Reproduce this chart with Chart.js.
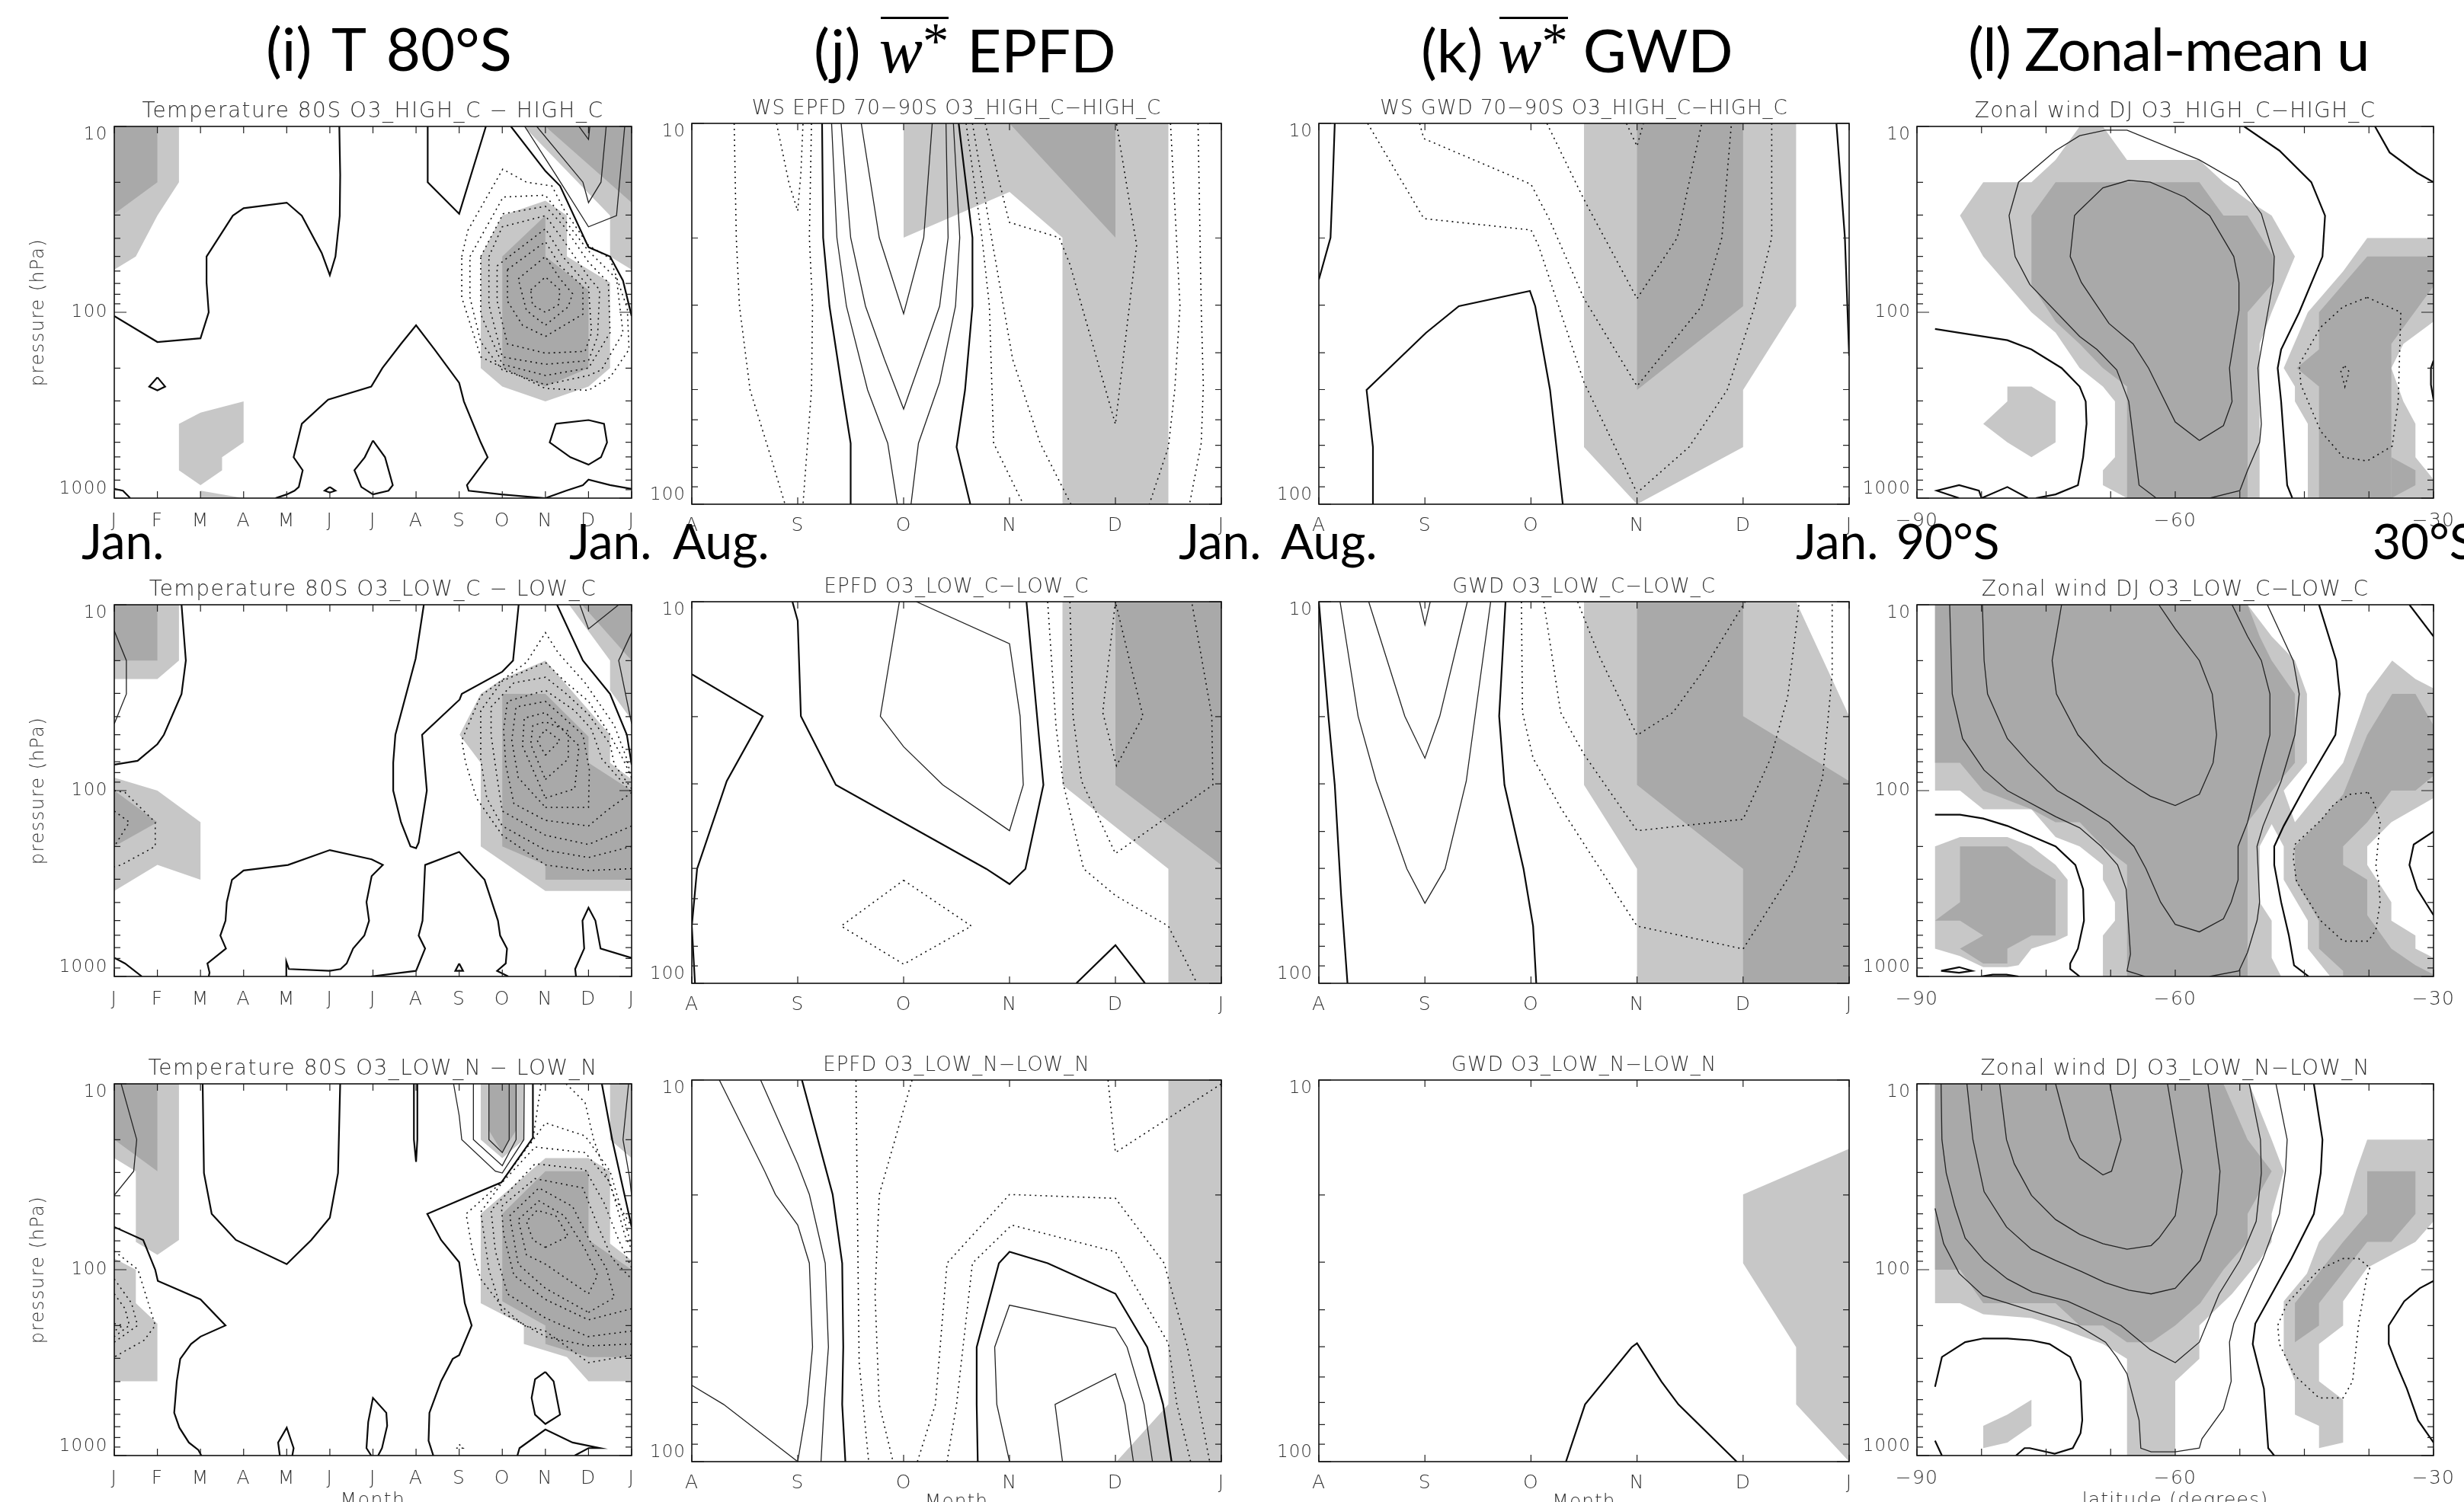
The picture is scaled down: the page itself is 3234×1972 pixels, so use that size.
<!DOCTYPE html>
<html>
<head>
<meta charset="utf-8">
<title>Ozone response panels</title>
<script src="https://cdn.jsdelivr.net/npm/chart.js@4"></script>
<style>
html, body { margin: 0; padding: 0; background: #fff; }
#page { position: relative; width: 3234px; height: 1972px; overflow: hidden; background: #fff; }
#page canvas { position: absolute; }
.big { position: absolute; font-family: Lato, sans-serif; color: #000; white-space: nowrap; line-height: 1; z-index: 5; }
.big.head { font-size: 78px; }
.big.edge { font-size: 64px; }
.wstar { font-family: "Liberation Serif", serif; font-style: italic; position: relative; font-size: 1.1em; }
.wstar sup { font-style: normal; font-size: 0.8em; line-height: 0; vertical-align: 0.28em; }
.wstar::before { content: ""; position: absolute; left: 2px; right: 0; top: 3px; height: 3px; background: #000; }
</style>
</head>
<body>
<div id="page">
<div class="big head" style="left:349px;top:24px;word-spacing:8px">(i) T 80°S</div>
<div class="big head" style="left:1068px;top:24px;word-spacing:4px">(j) <span class="wstar"><span>w</span><sup>*</sup></span> EPFD</div>
<div class="big head" style="left:1865px;top:24px">(k) <span class="wstar"><span>w</span><sup>*</sup></span> GWD</div>
<div class="big head" style="left:2583px;top:24px;letter-spacing:-1.5px">(l) Zonal-mean u</div>
<div class="big edge" style="left:107px;top:678px">Jan.</div>
<div class="big edge" style="left:747px;top:678px">Jan.</div>
<div class="big edge" style="left:883px;top:678px">Aug.</div>
<div class="big edge" style="left:1547px;top:678px">Jan.</div>
<div class="big edge" style="left:1681px;top:678px">Aug.</div>
<div class="big edge" style="left:2357px;top:678px">Jan.</div>
<div class="big edge" style="left:2489px;top:678px">90°S</div>
<div class="big edge" style="left:3114px;top:678px">30°S</div>
</div>

<script>
// tick labels
var monthsYear = ['J', 'F', 'M', 'A', 'M', 'J', 'J', 'A', 'S', 'O', 'N', 'D', 'J'];
var monthsWinter = ['A', 'S', 'O', 'N', 'D', 'J'];
var latLabels = { '-90': '\u221290', '-60': '\u221260', '-30': '\u221230' };
var pressWide = [10, 20, 30, 40, 50, 60, 70, 80, 90, 100, 200, 300, 400, 500, 600, 700, 800, 900, 1000];
var pressNarrow = [10, 20, 30, 40, 50, 60, 70, 80, 90, 100];

var titlesT = ['Temperature 80S O3_HIGH_C \u2212 HIGH_C', 'Temperature 80S O3_LOW_C \u2212 LOW_C', 'Temperature 80S O3_LOW_N \u2212 LOW_N'];
var titlesE = ['WS EPFD 70\u221290S O3_HIGH_C\u2212HIGH_C', 'EPFD O3_LOW_C\u2212LOW_C', 'EPFD O3_LOW_N\u2212LOW_N'];
var titlesG = ['WS GWD 70\u221290S O3_HIGH_C\u2212HIGH_C', 'GWD O3_LOW_C\u2212LOW_C', 'GWD O3_LOW_N\u2212LOW_N'];
var titlesU = ['Zonal wind DJ O3_HIGH_C\u2212HIGH_C', 'Zonal wind DJ O3_LOW_C\u2212LOW_C', 'Zonal wind DJ O3_LOW_N\u2212LOW_N'];

// contours and shading, every vertex is [x, log10(pressure in hPa)]
// x is months after the first tick (columns 1-3), degrees latitude (column 4)

// (i) row 1
var t1Light = [
  [[0,1],[1.5,1],[1.5,1.3],[1,1.48],[.5,1.7],[0,1.77]],
  [[1.5,2.6],[2,2.54],[3,2.48],[3,2.7],[2.5,2.78],[2.5,2.85],[2,2.93],[1.5,2.85]],
  [[2,2.96],[3,3],[2,3]],
  [[8.5,2.3],[8.5,1.7],[9,1.48],[10,1.4],[10.5,1.48],[10.5,1.7],[11.5,1.84],[11.5,2.3],[11,2.4],[10,2.48],[9,2.4]],
  [[9.5,1],[12,1],[12,1.77],[11.5,1.7],[11.5,1.48]]
];
var t1Dark = [
  [[0,1],[1,1],[1,1.3],[0,1.47]],
  [[9,1.7],[10,1.48],[10,1.7],[11,1.88],[11,2.3],[10,2.4],[9,2.3]],
  [[10,1],[12,1],[12,1.41]]
];
var t1Zero = [
  [[0,2.02],[1,2.16],[2,2.14],[2.19,2],[2.14,1.84],[2.14,1.7],[2.75,1.48],[3,1.44],[4,1.41],[4.35,1.48],[4.81,1.68],[5,1.8],[5.13,1.7],[5.23,1.48],[5.24,1.26],[5.22,1]],
  [[7.27,1],[7.27,1.3],[8,1.47],[8.62,1]],
  [[3.74,3],[4,2.98],[4.18,2.96],[4.28,2.94],[4.37,2.85],[4.16,2.78],[4.35,2.6],[4.96,2.47],[5.96,2.4],[6.22,2.3],[6.65,2.17],[7,2.07],[7.43,2.2],[8,2.38],[8.11,2.48],[8.5,2.7],[8.66,2.78],[8.18,2.93],[8.22,2.96],[8.98,2.98],[10,3],[10.48,2.96],[10.87,2.93],[11,2.9],[11.5,2.93],[12,2.95]],
  [[1,2.35],[1.18,2.4],[1,2.42],[.81,2.4],[1,2.35]],
  [[0,2.95],[.2,2.96],[.37,3]],
  [[5,2.94],[5.13,2.96],[5,2.97],[4.88,2.96],[5,2.94]],
  [[6,2.69],[6.28,2.78],[6.46,2.93],[6.36,2.96],[6,2.98],[5.73,2.94],[5.57,2.85],[5.81,2.78],[6,2.69]],
  [[10.24,2.6],[11,2.58],[11.36,2.6],[11.43,2.7],[11.29,2.78],[11,2.82],[10.58,2.78],[10.1,2.7],[10.24,2.6]],
  [[9.2,1],[10,1.24],[10.34,1.32],[11,1.65],[11.5,1.7],[11.8,1.83],[12,2.02]]
];
var t1Thin = [
  [[9.52,1],[10.24,1.26],[11,1.54],[11.65,1.48],[11.84,1]],
  [[9.8,1],[10.87,1.3],[11,1.41],[11.29,1.3],[11.41,1]],
  [[10.78,1],[11,1.07],[11.03,1]]
];
var t1Dots = [
  [[8.06,1.7],[8.2,1.56],[9.01,1.23],[9.56,1.3],[10.15,1.32],[10.44,1.45],[11,1.64],[11.5,1.71],[11.9,1.98],[11.94,2.2],[11.5,2.35],[11,2.42],[10,2.41],[8.5,2.24],[8.06,1.92],[8.06,1.7]],
  [[8.25,1.7],[9.02,1.38],[10,1.37],[10.4,1.49],[11,1.67],[11.65,1.82],[11.8,2.11],[11.3,2.31],[11,2.34],[10,2.39],[9,2.31],[8.5,2.16],[8.25,1.92],[8.25,1.7]],
  [[8.5,1.7],[9.02,1.47],[10,1.43],[10.44,1.54],[11,1.73],[11.46,1.84],[11.5,2.11],[11,2.3],[10,2.34],[9,2.28],[8.5,2.01],[8.5,1.7]],
  [[8.69,1.7],[9,1.54],[10,1.48],[10.44,1.62],[11,1.81],[11.26,1.88],[11.21,2.13],[11,2.26],[10,2.28],[9,2.24],[8.69,1.96],[8.69,1.7]],
  [[8.88,1.75],[10,1.55],[10.4,1.7],[11,1.86],[11.07,2.11],[10.92,2.21],[10,2.22],[9.12,2.17],[8.88,1.94],[8.88,1.75]],
  [[9.12,1.77],[10,1.62],[10.34,1.75],[10.87,1.86],[10.87,2.01],[10,2.13],[9.47,2.07],[9.12,1.94],[9.12,1.77]],
  [[9.37,1.82],[10,1.7],[10.34,1.82],[10.63,1.9],[10.53,1.97],[10,2.07],[9.56,1.99],[9.37,1.82]],
  [[9.66,1.88],[10,1.81],[10.34,1.88],[10.3,1.96],[10,2],[9.7,1.96],[9.66,1.88]]
];

// (i) row 2
var t2Light = [
  [[0,1],[1.5,1],[1.5,1.3],[1,1.4],[0,1.4]],
  [[0,1.93],[1,2],[2,2.17],[2,2.48],[1,2.4],[0,2.54]],
  [[8.01,1.7],[8.5,1.48],[9,1.4],[10,1.3],[11.5,1.7],[11.5,1.85],[12,1.94],[12,2.54],[10,2.54],[8.5,2.3],[8.5,1.85]],
  [[10.55,1],[12,1],[12,1.62],[11.5,1.46],[11.5,1.3]]
];
var t2Dark = [
  [[0,1],[1,1],[1,1.3],[0,1.3]],
  [[0,2],[1,2.17],[0,2.3]],
  [[9,1.48],[10,1.48],[11,1.71],[11,1.85],[12,2],[12,2.48],[10,2.48],[10,2.4],[9,2.3]],
  [[10.85,1],[12,1],[12,1.3]]
];
var t2Zero = [
  [[1.56,1],[1.66,1.3],[1.56,1.48],[1.15,1.7],[1,1.75],[.54,1.84],[0,1.86]],
  [[7.18,1],[6.99,1.29],[6.52,1.7],[6.47,1.85],[6.47,2],[6.65,2.17],[6.87,2.3],[7,2.31],[7.06,2.28],[7.25,2],[7.14,1.7],[8.01,1.51],[8.06,1.48],[9,1.36],[9.25,1.3],[9.38,1]],
  [[10.27,1],[10.87,1.3],[11.5,1.48],[11.89,1.7],[12,1.86]],
  [[3.99,3],[3.99,2.92],[4.05,2.96],[5,2.97],[5.25,2.96],[5.39,2.93],[5.54,2.85],[5.8,2.78],[5.91,2.7],[5.85,2.6],[5.97,2.46],[6.23,2.4],[5.97,2.37],[5,2.32],[4.03,2.4],[3,2.43],[2.73,2.48],[2.61,2.6],[2.58,2.7],[2.46,2.78],[2.59,2.85],[2.16,2.93],[2.21,2.98],[2.19,3]],
  [[5.95,3],[7,2.97],[7.21,2.85],[7.06,2.78],[7.15,2.7],[7.21,2.4],[8,2.33],[8.59,2.48],[8.9,2.7],[8.95,2.78],[9.11,2.85],[9.08,2.93],[8.88,2.97],[9.14,3]],
  [[10.71,3],[10.69,2.96],[10.9,2.85],[10.86,2.7],[11,2.63],[11.16,2.7],[11.28,2.85],[12,2.9]],
  [[0,2.9],[.25,2.93],[.64,3]],
  [[8,2.93],[8.09,2.97],[7.91,2.97],[8,2.93]]
];
var t2Thin = [
  [[0,1.14],[.28,1.3],[.28,1.48],[0,1.64]],
  [[10.8,1],[11,1.13],[11.7,1]],
  [[12,1.15],[11.7,1.3],[12,1.64]]
];
var t2Dots = [
  [[0,2],[.25,2.01],[.95,2.17],[.95,2.3],[.16,2.4],[0,2.41]],
  [[0,2.11],[.35,2.17],[0,2.3]],
  [[12,2.42],[11,2.43],[10,2.4],[9,2.24],[8.4,2.04],[8.15,1.85],[8.06,1.73],[8.5,1.49],[9.56,1.31],[10,1.15],[10.3,1.26],[10.92,1.42],[11.6,1.65],[11.89,1.83],[12,1.94]],
  [[12,2.3],[11,2.36],[10,2.32],[9,2.19],[8.64,2.04],[8.5,1.83],[8.5,1.57],[9,1.41],[10,1.31],[10.44,1.41],[11,1.52],[11.5,1.7],[11.8,1.83],[12,1.93]],
  [[12,2.19],[11,2.29],[10,2.24],[9,2.11],[8.88,1.93],[8.74,1.7],[8.74,1.55],[9.27,1.42],[10,1.39],[10.44,1.47],[11,1.59],[11.5,1.75],[11.6,1.86],[12,1.99]],
  [[12,2.01],[11.41,2.11],[11,2.19],[10,2.16],[9.27,2.07],[9.08,1.86],[9.03,1.67],[9.12,1.52],[10,1.46],[10.68,1.57],[11.07,1.67],[11.31,1.83],[12,2.01]],
  [[10,2.09],[11,2.09],[11.02,1.89],[10.87,1.7],[10,1.52],[9.32,1.55],[9.22,1.73],[9.37,1.93],[10,2.09]],
  [[10,2.04],[10.68,1.99],[10.78,1.76],[10,1.58],[9.51,1.61],[9.47,1.76],[10,2.04]],
  [[10,1.94],[10.53,1.83],[10.53,1.68],[10,1.63],[9.71,1.65],[9.66,1.75],[10,1.94]],
  [[10,1.81],[10.34,1.73],[10,1.67],[9.81,1.73],[10,1.81]]
];

// (i) row 3
var t3Light = [
  [[0,1],[1.5,1],[1.5,1.84],[1,1.92],[.5,1.85],[.5,1.47],[0,1.4]],
  [[0,1.94],[.5,2],[.5,2.18],[1,2.29],[1,2.6],[0,2.6]],
  [[8.5,1.7],[10,1.4],[11,1.4],[11.5,1.47],[11.5,1.86],[12,1.95],[12,2.6],[11,2.6],[10.5,2.47],[9.5,2.4],[9.5,2.3],[8.5,2.18]],
  [[8.5,1],[9.5,1],[9.5,1.3],[9,1.4],[8.5,1.3]],
  [[11.5,1],[12,1],[12,1.4],[11.5,1.3]]
];
var t3Dark = [
  [[0,1],[1,1],[1,1.47],[0,1.3]],
  [[9,1.7],[10,1.47],[11,1.47],[11,1.84],[12,2],[12,2.47],[11,2.47],[10,2.4],[10,2.3],[9,2.17]],
  [[8.69,1],[9.32,1],[9.32,1.25],[9,1.37],[8.69,1.25]]
];
var t3Zero = [
  [[2.05,1],[2.08,1.48],[2.26,1.7],[2.82,1.84],[4,1.97],[4.57,1.84],[5,1.72],[5.19,1.48],[5.24,1]],
  [[0,1.77],[.67,1.84],[.95,2],[1.01,2.06],[2,2.16],[2.58,2.3],[2,2.36],[1.78,2.4],[1.53,2.48],[1.45,2.6],[1.39,2.77],[1.51,2.85],[1.73,2.93],[1.95,2.97],[2.02,3]],
  [[7.4,3],[7.29,2.92],[7.31,2.77],[7.58,2.6],[7.85,2.48],[8,2.46],[8.29,2.3],[8.13,2.18],[8,1.96],[7.58,1.84],[7.26,1.7],[8.98,1.53],[9.71,1.29],[9.71,1]],
  [[11.31,1],[11.55,1.3],[12,1.77]],
  [[3.84,3],[3.8,2.93],[4,2.85],[4.16,2.96],[4.13,3]],
  [[5.96,3],[5.85,2.96],[5.89,2.82],[6,2.69],[6.31,2.77],[6.33,2.84],[6.21,2.96],[6.12,3]],
  [[10,2.55],[10.19,2.6],[10.34,2.78],[10,2.83],[9.76,2.78],[9.68,2.69],[9.76,2.59],[10,2.55]],
  [[9.35,3],[9.4,2.96],[10,2.86],[10.63,2.93],[11.26,2.96],[11,2.96],[10.68,3]],
  [[6.95,1],[6.95,1.3],[7,1.42],[7.03,1.3],[7.03,1]]
];
var t3Thin = [
  [[.16,1],[.52,1.3],[.45,1.47],[0,1.6]],
  [[7.87,1],[8,1.17],[8.06,1.3],[8.84,1.47],[9,1.48],[9.5,1.3],[9.51,1]],
  [[8.33,1],[8.33,1.3],[9,1.44],[9.32,1.3],[9.32,1]],
  [[8.69,1],[8.69,1.3],[9,1.37],[9.16,1.3],[9.16,1]],
  [[11.93,1],[11.8,1.3],[11.95,1.5],[12,1.6]]
];
var t3Dots = [
  [[0,1.9],[.55,2],[.95,2.3],[.69,2.38],[0,2.47]],
  [[0,2.05],[.4,2.18],[.54,2.3],[0,2.39]],
  [[0,2.13],[.25,2.21],[.35,2.3],[0,2.36]],
  [[0,2.29],[.2,2.3],[0,2.33]],
  [[9.9,1],[9.71,1.3],[8.98,1.53],[8.16,1.7],[8.31,1.9],[8.5,2.05],[9,2.2],[9.5,2.3],[10,2.33],[11,2.5],[12,2.46]],
  [[9.66,1.32],[10,1.21],[10.92,1.28],[11.5,1.47],[12,1.87]],
  [[10.48,1],[10.92,1.1],[11.12,1.3],[11.6,1.61],[12,1.77]],
  [[12,2.4],[10.99,2.41],[10,2.36],[9,2.23],[8.69,2],[8.5,1.69],[9,1.53],[9.76,1.34],[10.92,1.37],[11.5,1.53],[11.85,1.82],[12,1.89]],
  [[12,2.33],[10.99,2.36],[10,2.26],[9.12,2.13],[8.84,1.9],[8.74,1.68],[9.76,1.43],[10.92,1.46],[11.36,1.64],[11.7,1.84],[12,1.99]],
  [[12,2.21],[11,2.27],[10,2.16],[9.27,2.03],[9.03,1.81],[8.98,1.66],[9.76,1.51],[10.87,1.56],[11.21,1.76],[11.55,1.94],[12,2.05]],
  [[11,2.23],[11.6,2.15],[11.41,1.99],[11.02,1.84],[10.63,1.66],[9.85,1.56],[9.17,1.71],[9.37,1.97],[10,2.1],[11,2.23]],
  [[11,2.13],[11.21,2.03],[10.92,1.89],[10.44,1.71],[9.85,1.63],[9.37,1.73],[9.56,1.92],[10,1.97],[11,2.13]],
  [[10,1.88],[10.53,1.82],[10.24,1.71],[9.81,1.68],[9.56,1.74],[9.71,1.84],[10,1.88]],
  [[8,2.94],[8.09,2.96],[7.9,2.96]]
];

// (j) rows 1-3
var e1Light = [[[2,1],[4.5,1],[4.5,2],[3.5,2],[3.5,1.3],[3,1.18],[2,1.3]]];
var e1Dark = [[[3,1],[4,1],[4,1.3]]];
var e1Zero = [
  [[1.23,1],[1.24,1.3],[1.3,1.48],[1.42,1.7],[1.5,1.84],[1.5,2]],
  [[2.52,1],[2.65,1.3],[2.65,1.48],[2.58,1.7],[2.5,1.85],[2.63,2]]
];
var e1Thin = [
  [[1.32,1],[1.37,1.3],[1.46,1.48],[1.66,1.7],[1.85,1.84],[1.94,2]],
  [[2.07,2],[2.14,1.84],[2.34,1.68],[2.49,1.48],[2.53,1.3],[2.47,1]],
  [[1.41,1],[1.5,1.3],[1.64,1.48],[1.82,1.62],[2,1.75],[2.19,1.6],[2.34,1.48],[2.42,1.3],[2.4,1]],
  [[1.6,1],[1.77,1.3],[2,1.5],[2.19,1.3],[2.27,1]]
];
var e1Dots = [
  [[.4,1],[.42,1.3],[.45,1.48],[.55,1.7],[.74,1.87],[.88,2]],
  [[.8,1],[.92,1.16],[1,1.23],[1.03,1.13],[1.05,1]],
  [[1.13,1],[1.11,1.3],[1.14,1.48],[1.13,1.7],[1.05,2]],
  [[2.59,1],[2.74,1.3],[2.81,1.48],[2.85,1.84],[3.13,2]],
  [[2.65,1],[2.83,1.3],[3.03,1.62],[3.29,1.84],[3.58,2]],
  [[2.77,1],[2.98,1.24],[3,1.26],[3.47,1.3],[3.57,1.37],[4,1.79],[4.2,1.32],[4.01,1]],
  [[4.78,1],[4.81,1.48],[4.83,1.69],[4.81,1.84],[4.7,2]],
  [[4.52,1],[4.61,1.48],[4.56,1.7],[4.5,1.85],[4.32,2]]
];

var e2Light = [[[3.5,1],[5,1],[5,2],[4.5,2],[4.5,1.7],[3.5,1.48]]];
var e2Dark = [[[4,1],[5,1],[5,1.69],[4,1.48]]];
var e2Zero = [
  [[0,1.19],[.67,1.3],[.33,1.47],[.05,1.7],[0,1.85],[.03,2]],
  [[.95,1],[1,1.05],[1.03,1.3],[1.36,1.48],[2.78,1.7],[3,1.74],[3.15,1.7],[3.32,1.48],[3.16,1]],
  [[3.63,2],[4,1.9],[4.28,2]]
];
var e2Thin = [[[1.96,1],[1.78,1.3],[2,1.38],[2.37,1.48],[3,1.6],[3.13,1.48],[3.1,1.3],[3,1.11],[2.12,1]]];
var e2Dots = [
  [[2,1.73],[2.64,1.85],[2,1.95],[1.41,1.85],[2,1.73]],
  [[3.36,1],[3.44,1.33],[3.51,1.48],[3.7,1.7],[4,1.77],[4.5,1.85],[4.77,2]],
  [[3.57,1],[3.6,1.3],[3.68,1.47],[4,1.66],[4.92,1.48],[4.91,1.3],[4.72,1]],
  [[4,1],[3.88,1.29],[4.01,1.43],[4.26,1.3],[4,1]]
];

var e3Light = [[[4.5,1],[5,1],[5,2],[4.01,2],[4.5,1.85]]];
var e3Dark = [];
var e3Zero = [
  [[1.04,1],[1.33,1.3],[1.42,1.48],[1.43,1.7],[1.42,1.85],[1.45,2]],
  [[2.7,2],[2.69,1.85],[2.69,1.7],[2.9,1.48],[3,1.45],[3.36,1.48],[4,1.56],[4.3,1.7],[4.45,1.85],[4.53,2]]
];
var e3Thin = [
  [[.26,1],[.69,1.24],[.79,1.3],[1,1.38],[1.11,1.48],[1.14,1.7],[1.09,1.85],[1,2]],
  [[.65,1],[1,1.22],[1.11,1.3],[1.26,1.48],[1.29,1.7],[1.25,1.85],[1.22,2]],
  [[0,1.8],[.3,1.85],[1,2]],
  [[3,2],[2.88,1.85],[2.86,1.7],[3,1.59],[4,1.65],[4.11,1.7],[4.27,1.85],[4.35,2]],
  [[3.5,2],[3.43,1.85],[4,1.77],[4.09,1.85],[4.17,2]]
];
var e3Dots = [
  [[1.55,1],[1.57,1.5],[1.58,1.74],[1.67,2]],
  [[2.08,1],[1.77,1.3],[1.73,1.56],[1.77,1.85],[1.9,2]],
  [[2.13,2],[2.3,1.85],[2.41,1.48],[3,1.3],[4,1.31],[4.46,1.48],[4.68,1.7],[4.89,2]],
  [[2.41,2],[2.5,1.85],[2.65,1.48],[3.02,1.38],[4,1.45],[4.5,1.69],[4.58,1.85],[4.71,2]],
  [[3.93,1],[4,1.19],[5,1.01]]
];

// (k) rows 1-3
var g1Light = [[[2.5,1],[4.5,1],[4.5,1.48],[4,1.7],[4,1.85],[3,2],[2.5,1.85]]];
var g1Dark = [[[3,1],[4,1],[4,1.48],[3,1.7]]];
var g1Zero = [
  [[.15,1],[.13,1.16],[.11,1.3],[0,1.41]],
  [[.51,2],[.51,1.85],[.45,1.7],[1.01,1.55],[1.32,1.48],[1.99,1.44],[2.04,1.48],[2.18,1.7],[2.3,2]],
  [[4.88,1],[4.96,1.3],[5,1.61]]
];
var g1Thin = [];
var g1Dots = [
  [[.46,1],[.99,1.25],[2,1.28],[2.07,1.32],[2.5,1.68],[3,1.97],[3.49,1.85],[3.85,1.7],[4.11,1.48],[4.27,1.3],[4.27,1]],
  [[.95,1],[.99,1.04],[2,1.16],[2.17,1.25],[2.5,1.46],[3,1.69],[3.61,1.48],[3.8,1.3],[3.89,1]],
  [[2.15,1],[2.5,1.2],[3,1.46],[3.38,1.3],[3.61,1]],
  [[2.9,1],[3,1.06],[3.06,1]]
];

var g2Light = [[[2.5,1],[4.5,1],[5,1.3],[5,2],[3,2],[3,1.7],[2.5,1.48]]];
var g2Dark = [[[3,1],[4,1],[4,1.3],[5,1.47],[5,2],[4,2],[4,1.7],[3,1.48]]];
var g2Zero = [
  [[0,1],[.09,1.3],[.15,1.48],[.21,1.77],[.27,2]],
  [[1.76,1],[1.7,1.3],[1.75,1.48],[1.93,1.7],[2.02,1.85],[2.05,2]]
];
var g2Thin = [
  [[.2,1],[.37,1.3],[.54,1.47],[.83,1.7],[1,1.79],[1.19,1.7],[1.39,1.47],[1.62,1]],
  [[.47,1],[.81,1.3],[1,1.41],[1.14,1.3],[1.4,1]],
  [[.95,1],[1,1.06],[1.05,1]]
];
var g2Dots = [
  [[1.91,1],[1.92,1.29],[2.02,1.41],[2.28,1.54],[3,1.85],[4,1.91],[4.48,1.7],[4.75,1.46],[4.84,1.19],[4.84,1]],
  [[2.12,1],[2.28,1.29],[2.5,1.4],[3,1.6],[4,1.57],[4.26,1.41],[4.42,1.25],[4.53,1]],
  [[2.44,1],[2.64,1.14],[3,1.35],[3.34,1.29],[3.6,1.19],[4.02,1]]
];

var g3Light = [[[4,1.3],[5,1.18],[5,2],[4.5,1.85],[4.5,1.7],[4,1.48]]];
var g3Dark = [];
var g3Zero = [[[2.33,2],[2.51,1.85],[2.95,1.7],[3,1.69],[3.23,1.79],[3.39,1.85],[3.94,2]]];
var g3Thin = [];
var g3Dots = [];

// (l) rows 1-3
var u1Light = [
  [[-71.1,1],[-68.4,1],[-65.6,1.18],[-57.2,1.18],[-54.4,1.3],[-51.5,1.4],[-48.8,1.48],[-46.1,1.7],[-48.8,2],[-50.2,2.17],[-50.2,3],[-65.6,3],[-68.4,2.93],[-68.4,2.85],[-67,2.78],[-67,2.48],[-68.4,2.4],[-71.1,2.3],[-73.9,2.11],[-76.7,2],[-82.3,1.7],[-85,1.48],[-82.3,1.3],[-76.7,1.3],[-73.9,1.18]],
  [[-79.5,2.4],[-76.7,2.4],[-73.9,2.48],[-73.9,2.7],[-76.7,2.78],[-79.5,2.7],[-82.3,2.6],[-79.5,2.48]],
  [[-37.7,1.6],[-30,1.6],[-30,2.05],[-33.5,2.17],[-34.9,2.3],[-33.5,2.48],[-32.1,2.6],[-32.1,2.78],[-30,2.9],[-30,3],[-44.6,3],[-44.6,2.6],[-46.1,2.48],[-46.1,2.4],[-47.4,2.3],[-44.6,2],[-40.5,1.78]]
];
var u1Dark = [
  [[-73.9,1.3],[-57.2,1.3],[-54.4,1.48],[-51.6,1.48],[-48.6,1.7],[-48.6,1.84],[-51.6,2],[-51.6,3],[-65.6,3],[-65.6,2.4],[-68.4,2.3],[-71.1,2.17],[-73.9,2.05],[-76.7,1.85],[-76.7,1.48]],
  [[-37.7,1.7],[-30,1.7],[-30,1.86],[-34.9,2.17],[-34.9,3],[-43.3,3],[-43.3,2.4],[-45.9,2.3],[-43.3,2.2],[-43.3,2]],
  [[-34.9,2.78],[-32.1,2.85],[-32.1,2.93],[-34.9,3]]
];
var u1Zero = [
  [[-87.9,2.09],[-85.1,2.11],[-79.5,2.15],[-76.7,2.2],[-73.2,2.3],[-71.1,2.4],[-70.4,2.48],[-70.3,2.6],[-70.7,2.78],[-71.3,2.93],[-73.9,2.98],[-76.2,3]],
  [[-52,1],[-47.9,1.13],[-44.2,1.3],[-42.6,1.48],[-42.9,1.7],[-45.6,2],[-47.7,2.2],[-48.1,2.3],[-47.7,2.48],[-47,2.93],[-46.4,3]],
  [[-36.8,1],[-35.1,1.14],[-31.9,1.25],[-30,1.3]],
  [[-30,2.26],[-30.3,2.3],[-30.3,2.39],[-30,2.47]],
  [[-85.1,3],[-87.7,2.96],[-85.1,2.93],[-82.8,2.96],[-82.5,3],[-79.5,2.94],[-77.1,3]]
];
var u1Thin = [
  [[-52.5,2.96],[-51.6,2.85],[-50.2,2.7],[-50,2.6],[-50.4,2.3],[-48.6,1.83],[-48.5,1.7],[-50,1.47],[-52.7,1.3],[-57.2,1.18],[-65.6,1.02],[-68.1,1.02],[-71.1,1.05],[-73.9,1.13],[-78.2,1.3],[-79.3,1.48],[-78.6,1.7],[-76.9,1.85],[-71.1,2.13],[-69.1,2.2],[-66.8,2.31],[-65.4,2.48],[-64.2,2.93],[-62.2,3],[-56,3],[-52.5,2.96]],
  [[-57.2,2.69],[-54.4,2.61],[-53.4,2.48],[-53.7,2.3],[-52.6,1.99],[-52.6,1.84],[-53.2,1.7],[-56,1.48],[-58.9,1.38],[-62.9,1.3],[-65.4,1.29],[-68.4,1.33],[-71.3,1.46],[-71.7,1.48],[-72.2,1.7],[-70.9,1.84],[-67.7,2.06],[-64.9,2.17],[-63.1,2.3],[-60,2.59],[-57.2,2.69]]
];
var u1Dots = [
  [[-37.7,1.92],[-33.8,2],[-34.1,2.48],[-34.8,2.72],[-37.7,2.8],[-40.5,2.78],[-43.1,2.64],[-45.4,2.39],[-45.6,2.28],[-43.1,2.08],[-40.5,1.97],[-37.7,1.92]],
  [[-40.3,2.29],[-39.8,2.32],[-40.3,2.4],[-40.8,2.31],[-40.3,2.29]]
];

var u2Light = [
  [[-87.9,1],[-51.6,1],[-48.8,1.17],[-46.1,1.3],[-44.7,1.48],[-44.7,1.85],[-47.4,2],[-46.1,2.17],[-40.5,1.85],[-37.7,1.48],[-34.8,1.3],[-32.1,1.4],[-30,1.45],[-30,2.04],[-34.9,2.17],[-37.7,2.3],[-37.7,2.4],[-34.9,2.6],[-34.9,2.7],[-32.1,2.78],[-32.1,2.85],[-30,2.9],[-30,3],[-42,3],[-44.6,2.85],[-44.6,2.7],[-47.4,2.48],[-47.4,2.3],[-48.8,2.18],[-50.2,2.3],[-50.2,2.6],[-48.8,2.7],[-48.8,2.9],[-47.7,3],[-68.4,3],[-68.4,2.78],[-67,2.7],[-67,2.6],[-68.4,2.48],[-68.4,2.4],[-71.1,2.3],[-73.9,2.25],[-76.7,2.1],[-82.3,2.1],[-85,2],[-87.9,2]],
  [[-87.9,2.3],[-85,2.25],[-79.5,2.25],[-76.7,2.3],[-73.9,2.4],[-72.5,2.48],[-72.5,2.78],[-73.9,2.81],[-76.7,2.85],[-78.2,2.94],[-79.5,2.95],[-82.3,2.95],[-85,2.89],[-87.9,2.85]]
];
var u2Dark = [
  [[-87.9,1],[-51.6,1],[-50.2,1.17],[-48.8,1.3],[-46.1,1.48],[-46.1,1.85],[-47.9,1.95],[-51.6,2.17],[-51.6,3],[-65.6,3],[-65.6,2.4],[-68.4,2.3],[-71.1,2.17],[-73.9,2.17],[-76.7,2.1],[-82.3,2],[-85,1.85],[-87.9,1.85]],
  [[-34.8,1.48],[-32.1,1.48],[-30,1.65],[-30,1.92],[-32.1,2],[-34.9,2],[-37.7,2.17],[-40.5,2.3],[-40.5,2.4],[-37.7,2.48],[-37.7,2.67],[-34.9,2.85],[-32.1,2.94],[-30,2.99],[-30,3],[-40.5,3],[-40.5,2.97],[-43.3,2.85],[-43.3,2.7],[-46.1,2.48],[-46.1,2.3],[-43.3,2.17],[-40.5,2.02],[-37.7,1.7]],
  [[-85,2.3],[-79.5,2.3],[-76.7,2.4],[-73.9,2.48],[-73.9,2.78],[-76.7,2.78],[-79.5,2.85],[-79.5,2.93],[-82.3,2.93],[-85,2.85],[-82.3,2.78],[-85,2.7],[-87.9,2.7],[-85,2.6]]
];
var u2Zero = [
  [[-87.9,2.13],[-85,2.13],[-82.3,2.15],[-79.5,2.19],[-73.9,2.3],[-71.6,2.4],[-70.7,2.53],[-70.6,2.7],[-71.3,2.85],[-72.2,2.93],[-72.2,2.96],[-71.1,3]],
  [[-43.3,1],[-41.3,1.3],[-40.9,1.48],[-41.4,1.7],[-44.7,1.96],[-47.4,2.19],[-48.5,2.3],[-48.5,2.4],[-47.7,2.6],[-46.8,2.78],[-46.2,2.94],[-44.5,3]],
  [[-32.8,1],[-30,1.17]],
  [[-30,2.22],[-32.3,2.29],[-32.8,2.4],[-31.9,2.53],[-30,2.67]],
  [[-87.2,2.97],[-85.1,2.95],[-83.6,2.97],[-85.1,2.98],[-87.2,2.97]],
  [[-82.6,3],[-81.2,2.99],[-79.6,2.99],[-78.2,3]]
];
var u2Thin = [
  [[-49.3,1],[-46.3,1.3],[-45.6,1.48],[-46.1,1.7],[-47.7,1.95],[-49.8,2.19],[-50.5,2.3],[-50.2,2.6],[-50.5,2.7],[-51.6,2.87],[-52.6,2.97],[-56,3]],
  [[-63.5,3],[-65.6,2.97],[-65.2,2.88],[-65.7,2.53],[-66.7,2.4],[-68.6,2.3],[-71.1,2.2],[-73.9,2.14],[-79.5,2],[-82.2,1.89],[-84.7,1.72],[-85.9,1.48],[-86.2,1]],
  [[-53.4,1],[-51.6,1.17],[-50,1.3],[-49,1.48],[-49,1.7],[-50.2,1.91],[-51.6,2.17],[-52.7,2.3],[-52.7,2.48],[-53.5,2.6],[-54.4,2.69],[-57.2,2.76],[-60,2.72],[-61.7,2.6],[-63.4,2.42],[-64.8,2.3],[-67.7,2.17],[-71.1,2.07],[-73.7,2],[-77,1.85],[-79.5,1.72],[-81.8,1.48],[-82.2,1.3],[-82.4,1]],
  [[-61.9,1],[-60,1.13],[-57.2,1.3],[-55.7,1.48],[-55.2,1.7],[-55.6,1.85],[-57.2,2.02],[-60,2.08],[-62.9,2.03],[-65.6,1.95],[-68.4,1.85],[-71.3,1.7],[-73.8,1.48],[-74.3,1.3],[-73.2,1]]
];
var u2Dots = [
  [[-37.6,2.01],[-36.9,2.07],[-36.2,2.17],[-36.7,2.41],[-36.4,2.48],[-36.2,2.6],[-36.7,2.75],[-37.6,2.81],[-40.5,2.81],[-43.1,2.7],[-45.9,2.49],[-46.3,2.36],[-46.1,2.29],[-43.1,2.16],[-41.5,2.07],[-39.7,2.02],[-37.6,2.01]]
];

var u3Light = [
  [[-87.9,1],[-51.4,1],[-48.8,1.3],[-47.4,1.47],[-48.8,1.7],[-48.8,1.85],[-50.2,1.95],[-53.4,2.13],[-57.2,2.3],[-57.2,2.48],[-60,2.6],[-60,3],[-65.6,3],[-65.6,2.48],[-68.4,2.4],[-71.3,2.35],[-73.9,2.3],[-76.7,2.26],[-82.3,2.24],[-85,2.18],[-87.9,2.18]],
  [[-82.3,2.84],[-79.5,2.78],[-76.7,2.7],[-76.7,2.84],[-79.5,2.93],[-82.3,2.96]],
  [[-37.7,1.3],[-30,1.3],[-30,1.74],[-32.1,1.85],[-37.7,1.99],[-40.5,2.17],[-40.5,2.3],[-43.3,2.4],[-43.3,2.6],[-40.5,2.7],[-40.5,2.93],[-43.3,2.96],[-43.3,2.84],[-46.1,2.78],[-46.1,2.6],[-47.4,2.45],[-47.4,2.17],[-44.7,2.02],[-43.3,1.85],[-40.5,1.7],[-39,1.47]]
];
var u3Dark = [
  [[-87.9,1],[-54.4,1],[-51.6,1.3],[-48.8,1.47],[-51.6,1.7],[-51.6,1.85],[-54.4,2],[-57.1,2.18],[-60,2.3],[-62.8,2.39],[-65.6,2.39],[-68.4,2.3],[-71.1,2.3],[-73.9,2.18],[-82.3,2.18],[-85,2],[-87.9,2]],
  [[-37.7,1.47],[-32.1,1.47],[-32.1,1.7],[-34.9,1.85],[-37.7,1.85],[-43.3,2.18],[-43.3,2.3],[-46.1,2.39],[-46.1,2.18],[-40.5,1.85],[-37.7,1.7]]
];
var u3Zero = [
  [[-87.9,2.63],[-87.1,2.47],[-84.4,2.39],[-82.3,2.37],[-79.5,2.37],[-76.7,2.38],[-74.6,2.4],[-72.2,2.47],[-71,2.6],[-70.8,2.81],[-71,2.88],[-71.9,2.96],[-74,2.99],[-76.9,2.96],[-77.5,2.96],[-78.5,3]],
  [[-87.9,2.92],[-87.5,2.96],[-87.1,3]],
  [[-43.9,1],[-42.9,1.3],[-43.1,1.48],[-43.9,1.7],[-46.5,1.94],[-50.7,2.29],[-51,2.4],[-49.7,2.64],[-49.2,2.96],[-48.5,3]],
  [[-30,2.06],[-31.6,2.1],[-33.4,2.17],[-35.2,2.3],[-35.2,2.4],[-34.2,2.52],[-33.1,2.64],[-31.8,2.81],[-30,2.93]]
];
var u3Thin = [
  [[-48.3,1],[-47,1.3],[-47.2,1.47],[-47.9,1.7],[-49.8,1.94],[-53.2,2.29],[-53.7,2.39],[-53.5,2.6],[-54.4,2.75],[-56.9,2.91],[-57.2,2.96],[-60,2.98],[-62.8,2.98],[-64,2.96],[-64.2,2.81],[-65.6,2.56],[-66.8,2.47],[-68.1,2.39],[-71.3,2.3],[-79.5,2.18],[-82.3,2.14],[-85.1,2.02],[-86.9,1.86],[-87.9,1.67]],
  [[-51.4,1],[-50.1,1.3],[-50,1.48],[-50.6,1.74],[-52.5,1.95],[-54.9,2.13],[-57.2,2.39],[-60,2.5],[-62.9,2.43],[-66.3,2.3],[-72.5,2.17],[-76.6,2.12],[-79.5,2.05],[-82.2,1.95],[-84.4,1.83],[-85.6,1.66],[-86.6,1.48],[-87.1,1.3],[-87.2,1]],
  [[-56.2,1],[-54.8,1.47],[-55.2,1.7],[-57.1,1.95],[-60,2.1],[-62.8,2.13],[-65.4,2.11],[-68.1,2.07],[-70.9,2.01],[-73.9,1.95],[-76.7,1.89],[-79.6,1.77],[-82.2,1.58],[-83.5,1.3],[-84.2,1]],
  [[-60.9,1],[-59.2,1.47],[-60,1.71],[-61.9,1.83],[-62.8,1.87],[-65.6,1.89],[-68.4,1.86],[-71.1,1.81],[-73.9,1.73],[-76.7,1.6],[-78.7,1.43],[-79.6,1.3],[-80.4,1]],
  [[-67.6,1],[-66.3,1.3],[-67.4,1.47],[-68.4,1.49],[-71.1,1.4],[-72.2,1.3],[-73.9,1]]
];
var u3Dots = [
  [[-37.4,1.99],[-37.8,2.05],[-38.7,2.29],[-39.4,2.6],[-40.5,2.69],[-43.3,2.69],[-46.1,2.57],[-47.9,2.4],[-48.1,2.3],[-47,2.18],[-43.3,2],[-40.5,1.94],[-38.7,1.94],[-37.4,1.99]]
];

// page layout of the 12 panels
var colLeft = [150, 908, 1731, 2516];
var colRight = [829, 1603, 2427, 3194];
var rowTopWide = [166, 794, 1423], rowBottomWide = [654, 1282, 1911];
var rowTopNarrow = [162, 790, 1418], rowBottomNarrow = [662, 1291, 1919];
var colLeftPad = [150, 70, 70, 90];
var colTitleSize = [28, 26, 26, 28];
var colTitleSpacing = [1.5, 1, 1, 1.2];

var lightGrey = '#c7c7c7', darkGrey = '#a9a9a9', textGrey = '#333';

var idlAxes = {
  id: 'idlAxes',
  beforeDraw: function(chart) {
    chart.ctx.letterSpacing = chart.options.plugins.idlAxes.spacing + 'px';
  },
  afterDatasetsDraw: function(chart) {
    var ctx = chart.ctx, a = chart.chartArea, xs = chart.scales.x, ys = chart.scales.y;
    ctx.save();
    ctx.strokeStyle = '#222';
    ctx.fillStyle = textGrey;
    ctx.lineWidth = 1.2;
    ctx.beginPath();
    ys.ticks.forEach(function(t) {
      var y = ys.getPixelForValue(t.value);
      var len = Math.log10(t.value) % 1 === 0 ? 16 : 8;
      ctx.moveTo(a.left, y); ctx.lineTo(a.left + len, y);
      ctx.moveTo(a.right, y); ctx.lineTo(a.right - len, y);
    });
    xs.ticks.forEach(function(t) {
      var x = xs.getPixelForValue(t.value);
      ctx.moveTo(x, a.top); ctx.lineTo(x, a.top + 9);
      ctx.moveTo(x, a.bottom); ctx.lineTo(x, a.bottom - 9);
    });
    ctx.stroke();
    ctx.lineWidth = 1.6;
    ctx.strokeStyle = '#111';
    ctx.strokeRect(a.left, a.top, a.right - a.left, a.bottom - a.top);
    // IDL keeps the end labels inside the axis span
    ctx.font = '200 23px "DejaVu Sans"';
    ctx.textAlign = 'right';
    var decades = ys.ticks.filter(function(t) { return Math.log10(t.value) % 1 === 0; });
    decades.forEach(function(t, i) {
      ctx.textBaseline = i === 0 ? 'top' : (i === decades.length - 1 ? 'bottom' : 'middle');
      ctx.fillText(String(t.value), a.left - 8, ys.getPixelForValue(t.value));
    });
    ctx.restore();
  }
};

function toPoints(poly) {
  return poly.map(function(p) { return { x: p[0], y: Math.pow(10, p[1]) }; });
}

function buildDatasets(light, dark, zero, thin, dots) {
  var sets = [];
  dots.forEach(function(p) {
    sets.push({ data: toPoints(p), showLine: true, pointRadius: 0, borderColor: '#111', borderWidth: 1.6, borderDash: [2, 5] });
  });
  thin.forEach(function(p) {
    sets.push({ data: toPoints(p), showLine: true, pointRadius: 0, borderColor: '#222', borderWidth: 1.3 });
  });
  zero.forEach(function(p) {
    sets.push({ data: toPoints(p), showLine: true, pointRadius: 0, borderColor: '#0a0a0a', borderWidth: 2.2 });
  });
  dark.forEach(function(p) {
    sets.push({ data: toPoints(p), showLine: true, pointRadius: 0, borderWidth: 0, borderColor: darkGrey, backgroundColor: darkGrey, fill: 'shape' });
  });
  light.forEach(function(p) {
    sets.push({ data: toPoints(p), showLine: true, pointRadius: 0, borderWidth: 0, borderColor: lightGrey, backgroundColor: lightGrey, fill: 'shape' });
  });
  return sets;
}

function drawPanel(col, row, title, sets) {
  var wide = col === 0 || col === 3;
  var top = wide ? rowTopWide[row] : rowTopNarrow[row];
  var bottom = wide ? rowBottomWide[row] : rowBottomNarrow[row];
  var leftPad = colLeftPad[col], rightPad = 34, topPad = 50, bottomPad = row === 2 ? 90 : 50;

  var canvas = document.createElement('canvas');
  canvas.style.left = (colLeft[col] - leftPad) + 'px';
  canvas.style.top = (top - topPad) + 'px';
  canvas.style.width = (colRight[col] - colLeft[col] + leftPad + rightPad) + 'px';
  canvas.style.height = (bottom - top + topPad + bottomPad) + 'px';
  canvas.width = colRight[col] - colLeft[col] + leftPad + rightPad;
  canvas.height = bottom - top + topPad + bottomPad;
  document.getElementById('page').appendChild(canvas);

  var isLat = col === 3, isYear = col === 0;
  var xScale = {
    type: 'linear',
    min: isLat ? -90 : 0,
    max: isLat ? -30 : (isYear ? 12 : 5),
    grid: { display: false },
    border: { display: false },
    afterFit: function(s) { s.height = bottomPad; },
    ticks: {
      stepSize: isLat ? 7.5 : 1,
      autoSkip: false,
      maxRotation: 0,
      padding: wide ? 7 : 5,
      color: textGrey,
      font: { family: '"DejaVu Sans"', size: 25, weight: '200' },
      callback: function(v) {
        if (isLat) return latLabels[v] || '';
        return isYear ? monthsYear[v] : monthsWinter[v];
      }
    },
    title: {
      display: row === 2,
      text: isLat ? 'latitude (degrees)' : 'Month',
      color: textGrey,
      padding: { top: 0, bottom: wide ? 16 : 22 },
      font: { family: '"DejaVu Sans"', size: 25, weight: '200' }
    }
  };
  var yScale = {
    type: 'logarithmic',
    reverse: true,
    min: 10,
    max: wide ? 1000 : 100,
    grid: { display: false },
    border: { display: false },
    afterFit: function(s) { s.width = leftPad; },
    afterBuildTicks: function(s) {
      s.ticks = (wide ? pressWide : pressNarrow).map(function(v) { return { value: v }; });
    },
    ticks: { display: false },
    title: {
      display: col === 0,
      text: 'pressure (hPa)',
      color: textGrey,
      padding: { top: 36, bottom: 0 },
      font: { family: '"DejaVu Sans"', size: 24, weight: '200' }
    }
  };

  new Chart(canvas, {
    type: 'scatter',
    data: { datasets: sets },
    plugins: [idlAxes],
    options: {
      responsive: false,
      animation: false,
      events: [],
      layout: { padding: { left: 0, right: rightPad, top: 0, bottom: 0 } },
      scales: { x: xScale, y: yScale },
      plugins: {
        legend: { display: false },
        tooltip: { enabled: false },
        idlAxes: { spacing: colTitleSpacing[col] },
        title: {
          display: true,
          fullSize: false,
          text: title,
          color: textGrey,
          padding: { top: 16, bottom: 4 },
          font: { family: '"DejaVu Sans"', size: colTitleSize[col], weight: '200', lineHeight: '30px' }
        }
      }
    }
  });
}

drawPanel(0, 0, titlesT[0], buildDatasets(t1Light, t1Dark, t1Zero, t1Thin, t1Dots));
drawPanel(0, 1, titlesT[1], buildDatasets(t2Light, t2Dark, t2Zero, t2Thin, t2Dots));
drawPanel(0, 2, titlesT[2], buildDatasets(t3Light, t3Dark, t3Zero, t3Thin, t3Dots));
drawPanel(1, 0, titlesE[0], buildDatasets(e1Light, e1Dark, e1Zero, e1Thin, e1Dots));
drawPanel(1, 1, titlesE[1], buildDatasets(e2Light, e2Dark, e2Zero, e2Thin, e2Dots));
drawPanel(1, 2, titlesE[2], buildDatasets(e3Light, e3Dark, e3Zero, e3Thin, e3Dots));
drawPanel(2, 0, titlesG[0], buildDatasets(g1Light, g1Dark, g1Zero, g1Thin, g1Dots));
drawPanel(2, 1, titlesG[1], buildDatasets(g2Light, g2Dark, g2Zero, g2Thin, g2Dots));
drawPanel(2, 2, titlesG[2], buildDatasets(g3Light, g3Dark, g3Zero, g3Thin, g3Dots));
drawPanel(3, 0, titlesU[0], buildDatasets(u1Light, u1Dark, u1Zero, u1Thin, u1Dots));
drawPanel(3, 1, titlesU[1], buildDatasets(u2Light, u2Dark, u2Zero, u2Thin, u2Dots));
drawPanel(3, 2, titlesU[2], buildDatasets(u3Light, u3Dark, u3Zero, u3Thin, u3Dots));
</script>
</body>
</html>
